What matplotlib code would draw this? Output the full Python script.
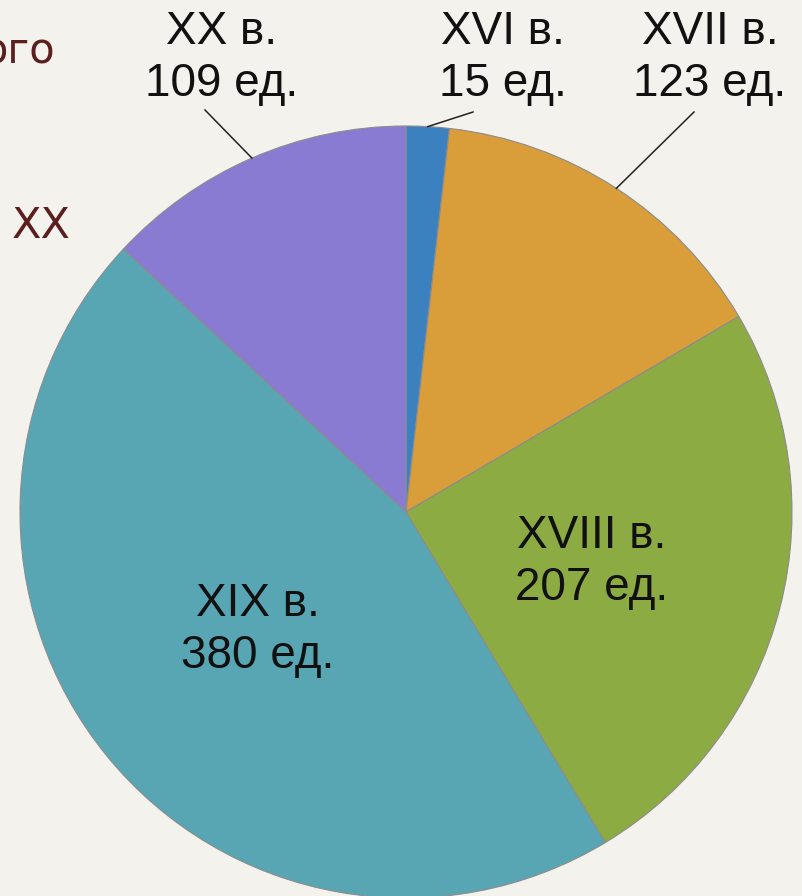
import numpy as np
import matplotlib
matplotlib.use("Agg")
import matplotlib.pyplot as plt

# --- Data ---
centuries = ["XVI в.", "XVII в.", "XVIII в.", "XIX в.", "XX в."]
counts = [15, 123, 207, 380, 109]
colors = ["#3b80bf", "#d99d3a", "#8cab42", "#58a6b4", "#8a7bd2"]

# label anchor positions (figure pixels, y up) and which ones get a leader line
label_pos = [(503, 838), (710, 838), (592, 334), (258, 266), (222, 838)]
leader_end = [(473, 784), (694, 784), None, None, (205, 786)]

BG = "#f4f2ec"
W, H = 803, 896

fig = plt.figure(figsize=(W / 100, H / 100), dpi=100, facecolor=BG)
ax = fig.add_axes([0, 0, 1, 1])
ax.set_facecolor(BG)

cx, cy, r = 406, 384, 386
wedges, _ = ax.pie(counts, colors=colors, startangle=90, counterclock=False,
                   center=(cx, cy), radius=r,
                   wedgeprops=dict(edgecolor="#8c8c8c", linewidth=0.8))

for w, name, n, pos, end in zip(wedges, centuries, counts, label_pos, leader_end):
    ax.text(pos[0], pos[1], f"{name}\n{n} ед.", ha="center", va="center",
            fontsize=33, family="Liberation Sans", color="#111111", linespacing=1.25)
    if end is not None:
        mid = np.deg2rad((w.theta1 + w.theta2) / 2)
        px, py = cx + r * np.cos(mid), cy + r * np.sin(mid)
        ax.plot([px, end[0]], [py, end[1]], color="#222222", lw=1.1)

# cut-off slide text on the left
ax.text(55, 833, "ого", ha="right", va="baseline", fontsize=30,
        family="DejaVu Sans", color="#5c1f1f")
ax.text(12, 658, "XX", ha="left", va="baseline", fontsize=31,
        family="DejaVu Sans", color="#5c1f1f")

ax.set_xlim(0, W)
ax.set_ylim(0, H)
ax.set_aspect("equal")
ax.axis("off")

fig.savefig("out.png", dpi=100, facecolor=BG)
